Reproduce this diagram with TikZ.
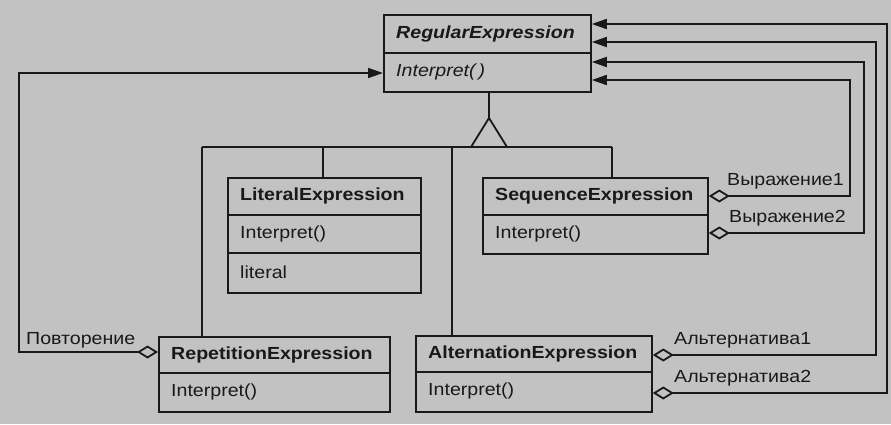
\documentclass[tikz,border=0pt]{standalone}
\usepackage{fontspec}
\setmainfont{Liberation Sans}[FakeStretch=1.12]
\usetikzlibrary{arrows.meta}
\definecolor{bg}{RGB}{194,194,194}
\definecolor{ink}{RGB}{25,25,25}
\tikzset{
  cls/.style={draw=ink, line width=1.8pt, anchor=north west, inner sep=0pt, rectangle},
  divl/.style={draw=ink, line width=1.8pt},
  txt/.style={anchor=west, inner sep=0pt, text=ink, font=\fontsize{17.5}{20}\selectfont},
  ttl/.style={txt, font=\fontsize{17.5}{20}\selectfont\bfseries},
  conn/.style={draw=ink, line width=1.8pt},
  agg/.style={conn, {Diamond[open,length=21pt,width=13pt]}-{Triangle[length=15pt,width=10pt]}},
}
\begin{document}
\begin{tikzpicture}[x=1pt,y=-1pt]
\fill[bg] (0,0) rectangle (891,424);
\useasboundingbox (0,0) rectangle (891,424);

% classes
\node[cls, minimum width=207pt, minimum height=77pt] (re) at (383,14) {};
\draw[divl] (383,53) -- (590,53);
\node[txt, font=\fontsize{17.5}{20}\selectfont\bfseries\itshape] (reT) at (396,34) {RegularExpression};
\node[txt, font=\fontsize{17.5}{20}\selectfont\itshape] (reO) at (396,72) {Interpret(\,)};

\node[cls, minimum width=193pt, minimum height=115pt] (lit) at (227,177) {};
\draw[divl] (227,215) -- (420,215);
\draw[divl] (227,253) -- (420,253);
\node[ttl] (litT) at (240,196) {LiteralExpression};
\node[txt] (litO) at (240,234) {Interpret()};
\node[txt] (litA) at (240,272) {literal};

\node[cls, minimum width=225pt, minimum height=76pt] (seq) at (482,177) {};
\draw[divl] (482,215) -- (707,215);
\node[ttl] (seqT) at (495,196) {SequenceExpression};
\node[txt] (seqO) at (495,234) {Interpret()};

\node[cls, minimum width=231pt, minimum height=75pt] (rep) at (158,336) {};
\draw[divl] (158,373) -- (389,373);
\node[ttl] (repT) at (171,355) {RepetitionExpression};
\node[txt] (repO) at (171,392) {Interpret()};

\node[cls, minimum width=236pt, minimum height=76pt] (alt) at (415,335) {};
\draw[divl] (415,372) -- (651,372);
\node[ttl] (altT) at (428,354) {AlternationExpression};
\node[txt] (altO) at (428,391) {Interpret()};

% inheritance
\coordinate (apex) at (489,118);
\draw[conn] (re.south -| apex) -- (apex);
\draw[conn, line join=miter] (apex) -- (471,147) -- (507,147) -- cycle;
\draw[conn] (202,147) -- (612,147);
\draw[conn] (202,147) -- (rep.north -| 202,0);
\draw[conn] (323,147) -- (lit.north -| 323,0);
\draw[conn] (452,147) -- (alt.north -| 452,0);
\draw[conn] (612,147) -- (seq.north -| 612,0);

% aggregations
\draw[agg] (seq.east |- 0,196) -- (850,196) -- (850,80) -- (re.east |- 0,80);
\draw[agg] (seq.east |- 0,233) -- (864,233) -- (864,62) -- (re.east |- 0,62);
\draw[agg] (alt.east |- 0,355) -- (876,355) -- (876,42) -- (re.east |- 0,42);
\draw[agg] (alt.east |- 0,393) -- (887,393) -- (887,24) -- (re.east |- 0,24);
\draw[agg] (rep.west |- 0,352) -- (19,352) -- (19,73) -- (re.west |- 0,73);

% labels
\node[txt] (l1) at (727,181) {Выражение1};
\node[txt] (l2) at (729,218) {Выражение2};
\node[txt] (l3) at (674,340) {Альтернатива1};
\node[txt] (l4) at (674,378) {Альтернатива2};
\node[txt] (l5) at (26,340) {Повторение};
\end{tikzpicture}
\end{document}
